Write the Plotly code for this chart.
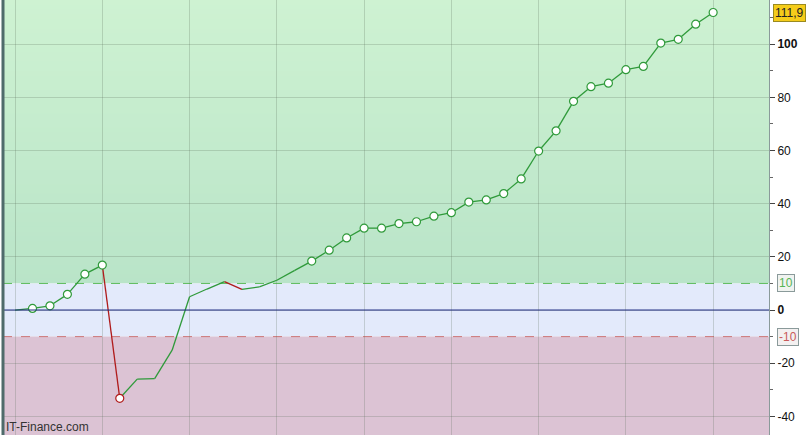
import plotly.graph_objects as go

# ---- data ----
values = [0, 0.6, 1.6, 5.9, 13.5, 16.9, -33.2, -26.0, -25.8, -15.1, 5.0,
          7.9, 10.7, 7.8, 8.7, 11.2, 14.8, 18.4, 22.5, 27.1, 30.8,
          30.8, 32.5, 33.2, 35.3, 36.6, 40.6, 41.4, 43.8, 49.3, 59.8,
          67.4, 78.5, 84.0, 85.3, 90.4, 91.6, 100.4, 101.8, 107.5, 111.9]
marker_idx = [1, 2, 3, 4, 5, 6] + list(range(17, 41))
y_tickvals = [-40, -20, 0, 20, 40, 60, 80, 100]
y_ticktext = ["-40", "-20", "<b>0</b>", "20", "40", "60", "80", "<b>100</b>"]
upper_level = 10
lower_level = -10
last_label = "111,9"
watermark = "IT-Finance.com"

x = list(range(len(values)))
YMIN, YMAX = -47.0, 116.6
GREEN = "#2f9a3a"
RED = "#b01c1c"

fig = go.Figure()

# background bands
shapes = []
n = 60
top_c = (206, 242, 210)
bot_c = (185, 228, 200)
for k in range(n):
    y0 = upper_level + (YMAX - upper_level) * k / n
    y1 = upper_level + (YMAX - upper_level) * (k + 1) / n
    t = (k + 0.5) / n
    c = tuple(int(round(bot_c[j] + (top_c[j] - bot_c[j]) * t)) for j in range(3))
    shapes.append(dict(type="rect", xref="paper", yref="y", x0=0, x1=1, y0=y0, y1=y1 + 0.3,
                       fillcolor="rgb(%d,%d,%d)" % c, line_width=0, layer="below"))
shapes.append(dict(type="rect", xref="paper", yref="y", x0=0, x1=1, y0=lower_level, y1=upper_level,
                   fillcolor="#e3eafb", line_width=0, layer="below"))
shapes.append(dict(type="rect", xref="paper", yref="y", x0=0, x1=1, y0=YMIN, y1=lower_level,
                   fillcolor="#dcc3d4", line_width=0, layer="below"))
shapes.append(dict(type="line", xref="paper", yref="y", x0=0, x1=1, y0=upper_level, y1=upper_level,
                   line=dict(color="#5cbb5c", width=1, dash="dash"), layer="below"))
shapes.append(dict(type="line", xref="paper", yref="y", x0=0, x1=1, y0=lower_level, y1=lower_level,
                   line=dict(color="#cc7777", width=1, dash="dash"), layer="below"))
shapes.append(dict(type="line", xref="paper", yref="y", x0=0, x1=1, y0=0, y1=0,
                   line=dict(color="#1d2a80", width=1), layer="above"))
shapes.append(dict(type="line", xref="paper", yref="paper", x0=0, x1=0, y0=0, y1=1,
                   line=dict(color="#4f6b6b", width=3)))

# line segments coloured by direction
gx, gy, rx, ry = [], [], [], []
for i in range(len(values) - 1):
    if values[i + 1] < values[i]:
        rx += [x[i], x[i + 1], None]
        ry += [values[i], values[i + 1], None]
    else:
        gx += [x[i], x[i + 1], None]
        gy += [values[i], values[i + 1], None]

fig.add_trace(go.Scatter(x=gx, y=gy, mode="lines", line=dict(color=GREEN, width=1.3),
                         hoverinfo="skip", showlegend=False))
fig.add_trace(go.Scatter(x=rx, y=ry, mode="lines", line=dict(color=RED, width=1.3),
                         hoverinfo="skip", showlegend=False))

mx = [x[i] for i in marker_idx]
my = [values[i] for i in marker_idx]
mc = [RED if (i > 0 and values[i] < values[i - 1]) else GREEN for i in marker_idx]
fig.add_trace(go.Scatter(x=mx, y=my, mode="markers",
                         marker=dict(size=8, color="white", line=dict(color=mc, width=1.2)),
                         showlegend=False))

annotations = [
    dict(xref="paper", yref="y", x=1.0, y=upper_level, xanchor="left", yanchor="middle",
         xshift=8, text=str(upper_level), showarrow=False,
         font=dict(family="Liberation Sans, Arial", size=12, color="#55b455"),
         bgcolor="#f0f3f0", bordercolor="#8a9a9a", borderwidth=1, borderpad=1),
    dict(xref="paper", yref="y", x=1.0, y=lower_level, xanchor="left", yanchor="middle",
         xshift=8, text=str(lower_level), showarrow=False,
         font=dict(family="Liberation Sans, Arial", size=12, color="#c95a5a"),
         bgcolor="#f3f0f0", bordercolor="#8a9a9a", borderwidth=1, borderpad=1),
    dict(xref="paper", yref="y", x=1.0, y=values[-1], xanchor="left", yanchor="middle",
         xshift=4, text=last_label, showarrow=False,
         font=dict(family="Liberation Sans, Arial", size=12, color="#222222"),
         bgcolor="#f5cc1a", bordercolor="#9a8a20", borderwidth=1, borderpad=1),
    dict(xref="paper", yref="paper", x=0.0, y=0.0, xanchor="left", yanchor="bottom",
         xshift=1, yshift=-1, text=watermark, showarrow=False,
         font=dict(family="Liberation Sans, Arial", size=12, color="#333333")),
]

fig.update_layout(
    width=810, height=435,
    margin=dict(l=3, r=41, t=0, b=0),
    paper_bgcolor="white", plot_bgcolor="white",
    shapes=shapes, annotations=annotations,
    xaxis=dict(range=[-0.69, 43.2], tick0=0, dtick=5, showticklabels=False,
               showgrid=True, gridcolor="rgba(90,110,90,0.25)", gridwidth=1,
               zeroline=False, showline=False, ticks=""),
    yaxis=dict(range=[YMIN, YMAX], side="right", tickvals=y_tickvals, ticktext=y_ticktext,
               showgrid=True, gridcolor="rgba(90,110,90,0.25)", gridwidth=1,
               zeroline=False, showline=True, linecolor="#8a9a9a", linewidth=1,
               ticks="outside", ticklen=5, tickcolor="#444444",
               minor=dict(dtick=10, tick0=0, ticks="outside", ticklen=3, tickcolor="#666666", showgrid=False),
               tickfont=dict(family="Liberation Sans, Arial", size=12, color="#111111")),
    font=dict(family="Liberation Sans, Arial"),
)

fig.write_html("out.html", config={"displayModeBar": False},
               post_script="document.body.style.margin='0';")
